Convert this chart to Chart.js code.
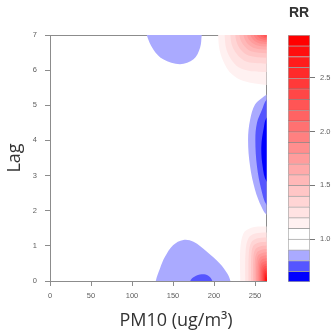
<!DOCTYPE html>
<html>
<head>
<meta charset="utf-8">
<script src="https://cdn.jsdelivr.net/npm/chart.js@4.4.1/dist/chart.umd.min.js"></script>
<style>
  html, body { margin: 0; padding: 0; background: #fff; overflow: hidden; }
  #wrap { position: relative; width: 331px; height: 335px; overflow: hidden; }
  #main { position: absolute; left: 0; top: 0; }
  #key { position: absolute; left: 270px; top: 0; }
</style>
</head>
<body>
<div id="wrap">
  <canvas id="main" width="352" height="335"></canvas>
  <canvas id="key" width="61" height="335"></canvas>
</div>
<script>
// RR contour levels used by the key (one colour band between two levels)
const rrLevels = [0.6, 0.7, 0.8, 0.9, 1.0, 1.1, 1.2, 1.3, 1.4, 1.5, 1.6, 1.7, 1.8, 1.9, 2.0, 2.1, 2.2, 2.3, 2.4, 2.5, 2.6, 2.7, 2.8, 2.9];
const keyTicks = [1.0, 1.5, 2.0, 2.5];
const pmTicks = [0, 50, 100, 150, 200, 250];
const lagTicks = [0, 1, 2, 3, 4, 5, 6, 7];
const pmMax = 264;
const lagMax = 7;

// areas where RR < level, as [PM10, lag] outlines
const lowRegions = [
  [0.9, [[127, -0.4], [129, 0], [134, 0.35], [140, 0.68], [150, 1.02], [162.6, 1.17], [175, 1.12], [191, 0.84], [207, 0.5], [216, 0.22], [220, 0], [222, -0.4]]],
  [0.8, [[169, -0.4], [171, 0], [176, 0.12], [185, 0.19], [193, 0.15], [198, 0], [200, -0.4]]],
  [0.9, [[116, 7.4], [118, 7], [126, 6.59], [138, 6.31], [158.5, 6.17], [175, 6.31], [183, 6.64], [185, 7], [187, 7.4]]],
  [0.9, [[272, 5.35], [264, 5.3], [258.5, 5.21], [250, 5.02], [244, 4.59], [241.5, 4.02], [244, 3.26], [250, 2.6], [257.7, 2.12], [264, 1.89], [272, 1.85]]],
  [0.8, [[272, 5.2], [264, 5.16], [258.5, 4.87], [252.4, 4.5], [250.4, 4.02], [252.4, 3.26], [257.7, 2.6], [264, 2.17], [272, 2.1]]],
  [0.7, [[272, 4.7], [264, 4.64], [260.6, 4.35], [257.7, 3.83], [259.3, 3.26], [264, 2.84], [272, 2.8]]]
];

// areas where RR > level, bottom right corner (lag 0, high PM10)
const highBottom = [
  [1.1, [[232, 0], [232, 0.9], [236, 1.36], [244, 1.5], [254, 1.55], [264, 1.55]]],
  [1.2, [[238, 0], [238.5, 0.85], [242, 1.22], [250, 1.35], [264, 1.38]]],
  [1.3, [[242, 0], [242.5, 0.8], [245.5, 1.1], [252, 1.21], [264, 1.24]]],
  [1.4, [[245, 0], [245.5, 0.74], [248, 1.0], [254, 1.09], [264, 1.12]]],
  [1.5, [[247.5, 0], [248, 0.68], [250.5, 0.9], [256, 0.98], [264, 1.01]]],
  [1.6, [[249.5, 0], [250, 0.62], [252.5, 0.81], [257, 0.88], [264, 0.91]]],
  [1.7, [[251.3, 0], [251.8, 0.56], [254, 0.73], [258, 0.79], [264, 0.82]]],
  [1.8, [[253, 0], [253.5, 0.5], [255.5, 0.65], [259, 0.71], [264, 0.73]]],
  [1.9, [[254.5, 0], [255, 0.44], [257, 0.58], [260, 0.63], [264, 0.65]]],
  [2.0, [[255.9, 0], [256.3, 0.39], [258, 0.51], [260.8, 0.55], [264, 0.57]]],
  [2.1, [[257.2, 0], [257.6, 0.34], [259.2, 0.44], [261.5, 0.48], [264, 0.5]]],
  [2.2, [[258.4, 0], [258.8, 0.29], [260.2, 0.38], [262, 0.42], [264, 0.43]]],
  [2.3, [[259.5, 0], [259.9, 0.24], [261, 0.32], [262.5, 0.35], [264, 0.36]]],
  [2.4, [[260.5, 0], [260.8, 0.2], [261.8, 0.26], [263, 0.29], [264, 0.3]]],
  [2.5, [[261.4, 0], [261.7, 0.16], [262.5, 0.21], [264, 0.24]]],
  [2.6, [[262.2, 0], [262.4, 0.12], [263.1, 0.16], [264, 0.18]]],
  [2.7, [[262.9, 0], [263.1, 0.08], [264, 0.12]]],
  [2.8, [[263.5, 0], [263.6, 0.05], [264, 0.07]]]
];

// areas where RR > level, top right corner (lag 7, high PM10)
const highTop = [
  [1.1, [[205, 7], [207, 6.55], [213, 6.17], [221.6, 5.89], [236, 5.69], [264, 5.58]]],
  [1.2, [[213, 7], [215, 6.6], [221, 6.3], [230, 6.08], [245, 5.97], [264, 5.95]]],
  [1.3, [[220, 7], [222, 6.7], [228, 6.45], [237, 6.27], [250, 6.2], [264, 6.18]]],
  [1.4, [[226, 7], [228, 6.77], [233, 6.57], [242, 6.42], [264, 6.35]]],
  [1.5, [[231, 7], [233, 6.82], [238, 6.66], [246, 6.53], [264, 6.48]]],
  [1.6, [[236, 7], [238, 6.86], [242, 6.73], [250, 6.62], [264, 6.58]]],
  [1.7, [[240.5, 7], [242, 6.89], [246, 6.79], [253, 6.7], [264, 6.67]]],
  [1.8, [[244.5, 7], [246, 6.92], [249.5, 6.83], [256, 6.76], [264, 6.74]]],
  [1.9, [[248.5, 7], [250, 6.93], [253, 6.86], [258, 6.82], [264, 6.8]]],
  [2.0, [[252.5, 7], [254, 6.94], [257, 6.89], [264, 6.85]]],
  [2.1, [[256.5, 7], [258, 6.95], [260.5, 6.92], [264, 6.9]]],
  [2.2, [[260, 7], [261.5, 6.96], [264, 6.94]]]
];

// blue -> white below 1, white -> red above 1 (like colorRampPalette)
const bandColors = rrLevels.slice(0, -1).map((lo, i) => {
  if (i < 4) return ['#0000FF', '#5555FF', '#AAAAFF', '#FFFFFF'][i];
  const g = Math.round(255 * (1 - (i - 4) / 18));
  return `rgb(255,${g},${g})`;
});
const bandIndex = lv => Math.round((lv - rrLevels[0]) * 10);

function region(pts, color) {
  return {
    data: pts.map(([x, y]) => ({x: x, y: y})),
    showLine: true,
    fill: 'shape',
    backgroundColor: color,
    borderColor: 'rgba(0,0,0,0)',
    borderWidth: 0,
    pointRadius: 0,
    pointHoverRadius: 0,
    tension: 0.35
  };
}

// paint order: outer regions first, inner ones on top
const paint = [];
lowRegions.forEach(([lv, pts]) => paint.push(region(pts, bandColors[bandIndex(lv) - 1])));
highBottom.forEach(([lv, pts]) => {
  const last = pts[pts.length - 1];
  const closed = [[pts[0][0], -0.5], ...pts, [272, last[1]], [272, -0.5]];
  paint.push(region(closed, bandColors[bandIndex(lv)]));
});
highTop.forEach(([lv, pts]) => {
  const last = pts[pts.length - 1];
  const closed = [[pts[0][0], 7.5], ...pts, [272, last[1]], [272, 7.5]];
  paint.push(region(closed, bandColors[bandIndex(lv)]));
});

const axisGrey = '#8c8c8c';
const tickFont = {family: 'Liberation Sans', size: 7.5};

new Chart(document.getElementById('main'), {
  type: 'scatter',
  data: {datasets: paint.slice().reverse()},
  options: {
    responsive: false,
    animation: false,
    events: [],
    layout: {padding: {top: 35, left: 0, right: 0, bottom: 0}},
    elements: {line: {capBezierPoints: false}},
    plugins: {
      legend: {display: false},
      tooltip: {enabled: false},
      title: {
        display: true,
        position: 'bottom',
        text: 'PM10 (ug/m³)',
        color: '#333',
        font: {family: 'Open Sans', size: 18, weight: 'normal', lineHeight: 1.2},
        padding: {top: 3, bottom: 3}
      }
    },
    scales: {
      x: {
        type: 'linear', position: 'bottom', min: 0, max: pmMax,
        afterBuildTicks: s => { s.ticks = pmTicks.map(v => ({value: v})); },
        afterFit: s => { s.height = 26.4; },
        ticks: {autoSkip: false, maxRotation: 0, padding: 5, color: '#5e5e5e', font: tickFont},
        grid: {drawOnChartArea: false, drawTicks: true, tickLength: 5, color: axisGrey},
        border: {display: true, color: axisGrey}
      },
      y: {
        type: 'linear', position: 'left', min: 0, max: lagMax,
        afterBuildTicks: s => { s.ticks = lagTicks.map(v => ({value: v})); },
        afterFit: s => { s.width = 50; },
        ticks: {padding: 8, color: '#5e5e5e', font: tickFont},
        grid: {drawOnChartArea: false, drawTicks: true, tickLength: 5, color: axisGrey},
        border: {display: true, color: axisGrey},
        title: {display: true, text: 'Lag', color: '#333', font: {family: 'Open Sans', size: 18}, padding: {top: 4, bottom: 0}}
      },
      x2: {
        type: 'linear', axis: 'x', position: 'top',
        afterFit: s => { s.height = 0; },
        ticks: {display: false},
        grid: {display: false, drawTicks: false},
        border: {display: true, color: axisGrey}
      },
      y2: {
        type: 'linear', axis: 'y', position: 'right',
        afterFit: s => { s.width = 85.5; },
        ticks: {display: false},
        grid: {display: false, drawTicks: false},
        border: {display: true, color: axisGrey}
      }
    }
  }
});

// colour key
new Chart(document.getElementById('key'), {
  type: 'bar',
  data: {
    labels: [''],
    datasets: bandColors.map((c, i) => ({
      data: [[rrLevels[i], rrLevels[i + 1]]],
      backgroundColor: c,
      borderColor: 'rgba(0,0,0,0.35)',
      borderWidth: {top: 1, left: 1, right: 1, bottom: i === 0 ? 1 : 0},
      borderSkipped: false,
      grouped: false,
      barPercentage: 1,
      categoryPercentage: 1
    }))
  },
  options: {
    responsive: false,
    animation: false,
    events: [],
    layout: {padding: {left: 18, right: 0, top: 0, bottom: 53}},
    plugins: {
      legend: {display: false},
      tooltip: {enabled: false},
      title: {
        display: true, text: 'RR', fullSize: false, color: '#333',
        font: {family: 'Liberation Sans', size: 14, weight: 'bold', lineHeight: 1.2},
        padding: {top: 5, bottom: 13.2}
      }
    },
    scales: {
      x: {display: false},
      y: {
        position: 'right', min: rrLevels[0], max: rrLevels[rrLevels.length - 1],
        afterBuildTicks: s => { s.ticks = keyTicks.map(v => ({value: v})); },
        afterFit: s => { s.width = 21; },
        ticks: {padding: 5, color: '#5e5e5e', font: tickFont, callback: v => Number(v).toFixed(1)},
        grid: {drawOnChartArea: false, drawTicks: true, tickLength: 5, color: '#777'},
        border: {display: false}
      }
    }
  }
});
</script>
</body>
</html>
